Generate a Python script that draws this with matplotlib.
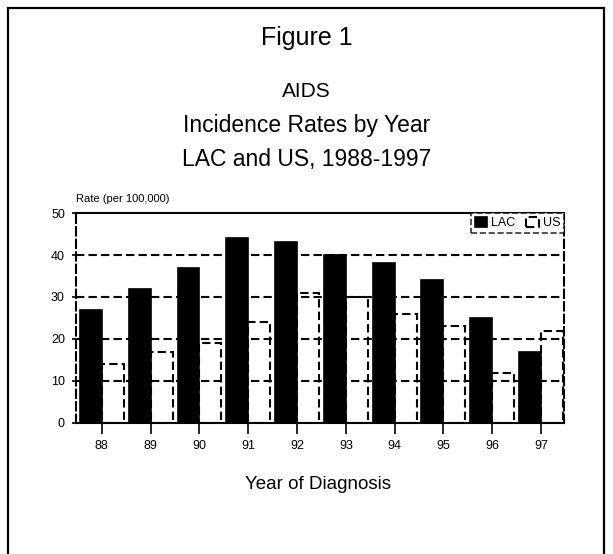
#!/usr/bin/env python3
"""AIDS incidence rates by year, LAC vs US, 1988-1997."""

import matplotlib

matplotlib.use("Agg")
import matplotlib.pyplot as plt
from matplotlib.patches import Rectangle
import numpy as np

plt.rcParams["font.family"] = ["Liberation Sans", "DejaVu Sans"]

years = ["88", "89", "90", "91", "92", "93", "94", "95", "96", "97"]
lac_rates = [27, 32, 37, 44, 43, 40, 38, 34, 25, 17]
us_rates = [14, 17, 19, 24, 31, 30, 26, 23, 12, 22]
series_names = ["LAC", "US"]

DASH = (0, (4, 2))

fig = plt.figure(figsize=(6.13, 5.54), dpi=100)
ax = fig.add_axes([0.124, 0.2365, 0.796, 0.379])

x = np.arange(len(years))
width = 0.45
ax.bar(x - 0.42, lac_rates, width, align="edge", color="black", edgecolor="black",
       linewidth=1.2, label=series_names[0], zorder=3)
ax.bar(x + 0.03, us_rates, width, align="edge", fill=False, edgecolor="black",
       linewidth=1.5, linestyle=DASH, label=series_names[1], zorder=3)

ax.set_xlim(-0.5, len(years) - 0.5)
ax.set_ylim(0, 50)
ax.set_yticks([0, 10, 20, 30, 40, 50])
ax.set_xticks(x + 0.03)
ax.set_xticklabels(years, fontsize=9)
ax.tick_params(axis="y", labelsize=9, length=6, width=1.2, direction="inout", pad=5)
ax.tick_params(axis="x", length=8, width=1.2, direction="out", pad=4)

for level in [10, 20, 30, 40]:
    ax.axhline(level, color="black", linewidth=1.5, linestyle=DASH, zorder=1)

ax.spines["top"].set_linewidth(1.5)
ax.spines["bottom"].set_linewidth(1.5)
for side in ["left", "right"]:
    ax.spines[side].set_linewidth(1.5)
    ax.spines[side].set_linestyle(DASH)

legend = ax.legend(loc="upper right", ncol=2, fontsize=9, frameon=True,
                   fancybox=False, borderaxespad=0.0, handlelength=1.0,
                   handleheight=0.9, handletextpad=0.3, columnspacing=0.9,
                   borderpad=0.3)
frame = legend.get_frame()
frame.set_edgecolor("black")
frame.set_linestyle("--")
frame.set_linewidth(1.2)

fig.text(0.124, 0.632, "Rate (per 100,000)", fontsize=8, ha="left", va="bottom")
fig.text(0.5, 0.931, "Figure 1", fontsize=18, ha="center", va="center")
fig.text(0.5, 0.834, "AIDS", fontsize=15, ha="center", va="center")
fig.text(0.5, 0.773, "Incidence Rates by Year", fontsize=16.5, ha="center", va="center")
fig.text(0.5, 0.712, "LAC and US, 1988-1997", fontsize=16.5, ha="center", va="center")
fig.text(0.519, 0.126, "Year of Diagnosis", fontsize=13.5, ha="center", va="center")

border = Rectangle((8 / 613, -0.05), 596 / 613, 1 - 8 / 554 + 0.05,
                   transform=fig.transFigure, fill=False, edgecolor="black",
                   linewidth=1.6, clip_on=False)
fig.add_artist(border)

fig.savefig("out.png", dpi=100)
plt.close(fig)
